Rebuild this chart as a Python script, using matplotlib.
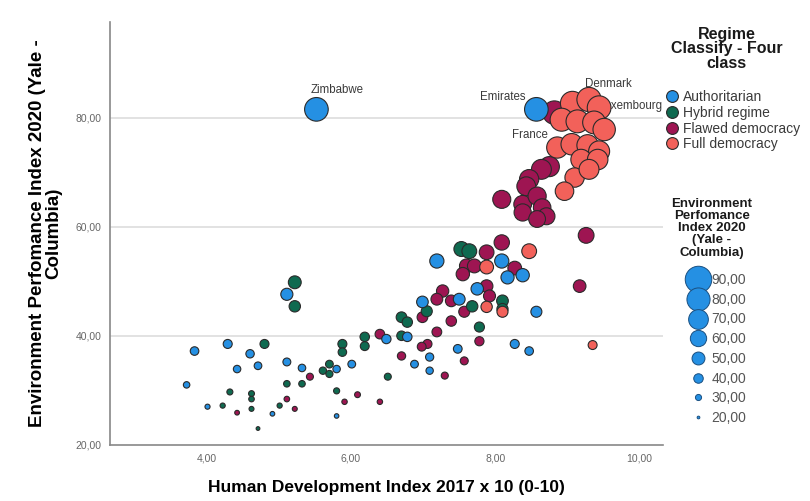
import numpy as np
import matplotlib.pyplot as plt
from matplotlib.lines import Line2D

plt.rcParams['font.family'] = ['Liberation Sans', 'DejaVu Sans']

# Human Development Index 2017 x 10 (x) and Environment Performance Index 2020 (y), per regime class
auth_x = [5.52, 8.57, 5.11, 7.19, 8.09, 8.17, 8.38, 7.75, 6.99, 7.50, 6.49, 6.78, 8.27, 8.47,
          8.57, 7.48, 7.09, 6.88, 6.01, 7.09, 5.80, 3.83, 4.60, 4.42, 4.71, 5.11, 5.32, 3.72,
          4.29, 4.01, 4.91, 5.80]
auth_y = [81.5, 81.5, 47.6, 53.7, 53.7, 50.7, 51.1, 48.6, 46.2, 46.7, 39.4, 39.8, 38.5, 37.2,
          44.4, 37.6, 36.1, 34.8, 34.8, 33.6, 33.9, 37.2, 36.7, 33.9, 34.5, 35.2, 34.1, 31.0,
          38.5, 27.0, 25.7, 25.3]

hybrid_x = [5.22, 5.22, 7.53, 7.64, 8.10, 8.10, 7.78, 6.70, 6.78, 6.19, 6.19, 6.70, 5.88, 5.88,
            7.05, 7.68, 6.51, 4.80, 5.61, 5.70, 5.70, 5.32, 5.11, 4.32, 4.62, 4.62, 4.62, 5.80,
            4.22, 5.01, 4.71]
hybrid_y = [49.8, 45.4, 55.9, 55.5, 46.4, 44.9, 41.6, 43.4, 42.5, 39.8, 38.1, 40.0, 38.5, 37.0,
            44.5, 45.4, 32.5, 38.5, 33.6, 34.8, 33.0, 31.2, 31.2, 29.7, 29.4, 28.4, 26.6, 29.9,
            27.2, 27.2, 23.0]

flawed_x = [8.82, 8.75, 8.64, 8.47, 8.43, 8.09, 8.38, 8.58, 8.65, 8.38, 8.71, 8.58, 9.26, 8.09,
            7.88, 7.60, 7.55, 7.71, 8.27, 9.17, 7.88, 7.92, 7.27, 7.19, 7.39, 6.99, 7.39, 7.57,
            7.19, 7.06, 6.98, 7.78, 6.70, 7.57, 6.40, 7.30, 5.43, 5.11, 6.09, 5.91, 6.40, 5.22,
            4.42]
flawed_y = [80.9, 71.0, 70.5, 68.7, 67.4, 65.0, 64.1, 65.6, 63.5, 62.6, 61.9, 61.4, 58.4, 57.1,
            55.3, 52.8, 51.3, 52.8, 52.4, 49.1, 49.1, 47.3, 48.2, 46.7, 46.4, 43.4, 42.7, 44.4,
            40.7, 38.5, 38.0, 39.0, 36.3, 35.4, 40.3, 32.7, 32.5, 28.4, 29.2, 27.9, 27.9, 26.6,
            25.9]

full_x = [9.07, 9.30, 9.44, 8.92, 9.14, 9.37, 9.51, 8.86, 9.06, 9.28, 9.44, 9.19, 9.42, 9.10,
          9.30, 8.96, 8.47, 7.88, 7.88, 8.10, 9.35]
full_y = [82.6, 83.3, 81.8, 79.6, 79.3, 79.1, 77.8, 74.5, 75.1, 74.9, 73.8, 72.3, 72.3, 69.0,
          70.5, 66.5, 55.5, 52.6, 45.3, 44.4, 38.3]

# labelled countries: (name, regime key, index in that series, text offset in points)
labels = [("Zimbabwe", "auth", 0, (15, 14)),
          ("Emirates", "auth", 1, (-24, 9)),
          ("Denmark", "full", 1, (14, 11)),
          ("Luxembourg", "full", 2, (22, 1)),
          ("France", "full", 3, (-23, -11))]

legend_sizes = [90, 80, 70, 60, 50, 40, 30, 20]

colors = {"auth": "#2590e3", "hybrid": "#0f6a50", "flawed": "#9e1552", "full": "#f2615a"}
names = {"auth": "Authoritarian", "hybrid": "Hybrid regime",
         "flawed": "Flawed democracy", "full": "Full democracy"}
series = {"auth": (auth_x, auth_y), "hybrid": (hybrid_x, hybrid_y),
          "flawed": (flawed_x, flawed_y), "full": (full_x, full_y)}


def diam(v):
    # marker diameter in points, grows with the EPI value
    return 0.34 * (np.asarray(v, dtype=float) - 12) * 0.72


def comma(v):
    return f"{v:.2f}".replace(".", ",")


fig = plt.figure(figsize=(8.1, 5.01), dpi=100)
ax = fig.add_axes([0.136, 0.112, 0.682, 0.844])

for key in ["flawed", "hybrid", "auth", "full"]:
    xs, ys = series[key]
    ax.scatter(xs, ys, s=diam(ys) ** 2, c=colors[key], edgecolors="#2a2a2a",
               linewidths=0.8, zorder=3)

for name, key, i, off in labels:
    xs, ys = series[key]
    ax.annotate(name, (xs[i], ys[i]), xytext=off, textcoords="offset points",
                ha="center", va="center", fontsize=8.3, color="#3a3a3a", zorder=2)

ax.set_xlim(2.66, 10.32)
ax.set_ylim(20, 97.5)
ax.set_xticks([4, 6, 8, 10])
ax.set_yticks([20, 40, 60, 80])
ax.xaxis.set_major_formatter(lambda v, p: comma(v))
ax.yaxis.set_major_formatter(lambda v, p: comma(v))
ax.tick_params(length=0, labelsize=7.5, labelcolor="#666666", pad=6)
for g in [40, 60, 80]:
    ax.axhline(g, color="#dddddd", linewidth=1.2, zorder=1)
for s in ["top", "right"]:
    ax.spines[s].set_visible(False)
for s in ["left", "bottom"]:
    ax.spines[s].set_color("#888888")
    ax.spines[s].set_linewidth(1.2)

ax.set_xlabel("Human Development Index 2017 x 10 (0-10)", fontsize=12.5, fontweight="bold",
              labelpad=12)
ax.set_ylabel("Environment Perfomance Index 2020 (Yale -\nColumbia)", fontsize=13.5,
              fontweight="bold", labelpad=10, linespacing=0.95)

# regime legend
fig.text(0.897, 0.946, "Regime\nClassify - Four\nclass", ha="center", va="top",
         fontsize=11.5, fontweight="bold", linespacing=0.95, color="#1a1a1a")
h1 = [Line2D([], [], marker="o", linestyle="", markersize=8.5, markerfacecolor=colors[k],
             markeredgecolor="#2a2a2a", markeredgewidth=0.8) for k in names]
leg1 = fig.legend(h1, [names[k] for k in names], loc="upper left",
                  bbox_to_anchor=(0.823, 0.82), frameon=False, fontsize=10,
                  handletextpad=0.35, labelspacing=0.12, borderaxespad=0, borderpad=0,
                  handlelength=0.8)
for t in leg1.get_texts():
    t.set_color("#3a3a3a")

# size legend
fig.text(0.879, 0.605, "Environment\nPerfomance\nIndex 2020\n(Yale -\nColumbia)", ha="center",
         va="top", fontsize=9.5, fontweight="bold", linespacing=1.02, color="#1a1a1a")
h2 = [Line2D([], [], marker="o", linestyle="", markersize=float(diam(v)),
             markerfacecolor=colors["auth"], markeredgecolor="#1a4f80", markeredgewidth=0.7)
      for v in legend_sizes]
leg2 = fig.legend(h2, [comma(v) for v in legend_sizes], loc="upper left",
                  bbox_to_anchor=(0.851, 0.455), frameon=False, fontsize=10,
                  handletextpad=0.4, labelspacing=0.41, borderaxespad=0, borderpad=0,
                  handlelength=1.2)
for t in leg2.get_texts():
    t.set_color("#555555")

fig.savefig("out.png", dpi=100)
